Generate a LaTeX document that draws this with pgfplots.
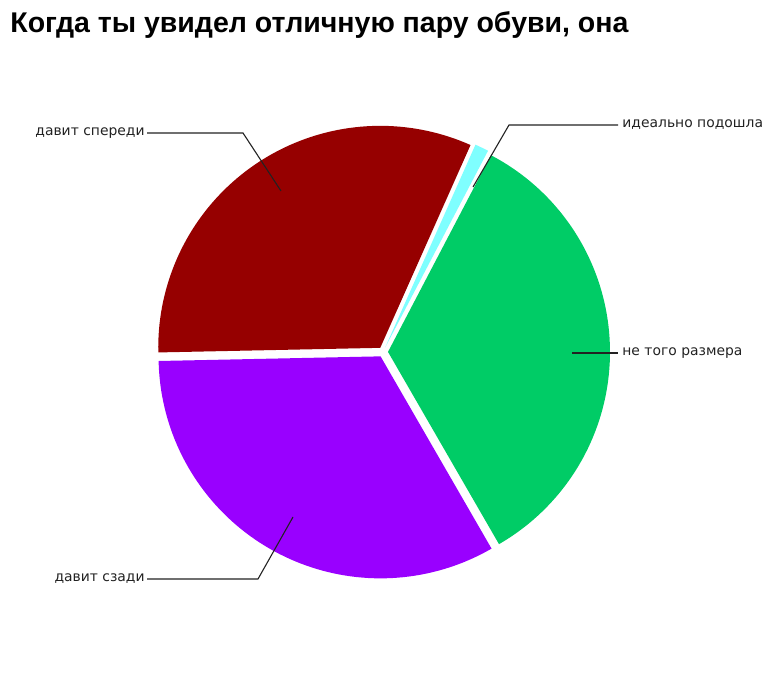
\documentclass[border=0pt]{standalone}
\usepackage{pgfplots}
\pgfplotsset{compat=1.18}
\usepackage{pgfplotstable}
\usepackage{fontspec}
\setmainfont{DejaVu Sans}
\newfontfamily\titlefont{Liberation Sans}

\definecolor{sliceGreen}{HTML}{00CC66}
\definecolor{sliceCyan}{HTML}{7FFFFF}
\definecolor{sliceRed}{HTML}{960000}
\definecolor{slicePurple}{HTML}{9900FF}
\definecolor{leader}{HTML}{222222}

% shares in percent, counter-clockwise from -60 degrees
\pgfplotstableread{
name value
nesize 34
ideal 1
front 32
back 33
}\piedata

\begin{document}
\begin{tikzpicture}
  \pgfplotstablegetelem{0}{value}\of\piedata \let\vA\pgfplotsretval
  \pgfplotstablegetelem{1}{value}\of\piedata \let\vB\pgfplotsretval
  \pgfplotstablegetelem{2}{value}\of\piedata \let\vC\pgfplotsretval
  \pgfplotstablegetelem{3}{value}\of\piedata \let\vD\pgfplotsretval
  \pgfmathsetmacro\aO{-60}
  \pgfmathsetmacro\aA{\aO+3.6*\vA}
  \pgfmathsetmacro\aB{\aA+3.6*\vB}
  \pgfmathsetmacro\aC{\aB+3.6*\vC}
  \pgfmathsetmacro\aD{\aC+3.6*\vD}
  % pie centre, radius and explode offset (pixel units)
  \def\cx{383}\def\cy{323}\def\rr{222}\def\ex{5}
  \begin{axis}[
      scale only axis,
      width  = 382.5pt,
      height = 337.5pt,
      xmin = 0, xmax = 765,
      ymin = 0, ymax = 675,
      hide axis,
      clip = false,
    ]
    \path (axis cs:0,0) rectangle (axis cs:765,675);

    % slices
    \addplot[fill=sliceGreen, draw=none, domain=\aO:\aA, samples=80]
      ({\cx+\ex*cos((\aO+\aA)/2)+\rr*cos(x)}, {\cy+\ex*sin((\aO+\aA)/2)+\rr*sin(x)})
      -- (axis cs:{\cx+\ex*cos((\aO+\aA)/2)},{\cy+\ex*sin((\aO+\aA)/2)}) -- cycle;
    \addplot[fill=sliceCyan, draw=none, domain=\aA:\aB, samples=10]
      ({\cx+\ex*cos((\aA+\aB)/2)+\rr*cos(x)}, {\cy+\ex*sin((\aA+\aB)/2)+\rr*sin(x)})
      -- (axis cs:{\cx+\ex*cos((\aA+\aB)/2)},{\cy+\ex*sin((\aA+\aB)/2)}) -- cycle;
    \addplot[fill=sliceRed, draw=none, domain=\aB:\aC, samples=80]
      ({\cx+\ex*cos((\aB+\aC)/2)+\rr*cos(x)}, {\cy+\ex*sin((\aB+\aC)/2)+\rr*sin(x)})
      -- (axis cs:{\cx+\ex*cos((\aB+\aC)/2)},{\cy+\ex*sin((\aB+\aC)/2)}) -- cycle;
    \addplot[fill=slicePurple, draw=none, domain=\aC:\aD, samples=80]
      ({\cx+\ex*cos((\aC+\aD)/2)+\rr*cos(x)}, {\cy+\ex*sin((\aC+\aD)/2)+\rr*sin(x)})
      -- (axis cs:{\cx+\ex*cos((\aC+\aD)/2)},{\cy+\ex*sin((\aC+\aD)/2)}) -- cycle;

    % leader lines
    \addplot[leader, line width=0.55pt] coordinates {(147,542) (243,542) (281,484)};
    \addplot[leader, line width=0.55pt] coordinates {(618,550) (509,550) (473,488)};
    \addplot[leader, line width=0.55pt] coordinates {(572,322) (618,322)};
    \addplot[leader, line width=0.55pt] coordinates {(147,96) (258,96) (293,158)};

    % labels
    \begin{scope}[every node/.style={inner sep=0pt, text=leader, font=\fontsize{6.95}{8}\selectfont}]
      \node[anchor=east]  at (axis cs:145,542) {давит спереди};
      \node[anchor=west]  at (axis cs:622,550) {идеально подошла};
      \node[anchor=west]  at (axis cs:622,322) {не того размера};
      \node[anchor=east]  at (axis cs:145,96)  {давит сзади};
    \end{scope}

    % title
    \node[anchor=base west, inner sep=0pt]
      at (axis cs:10,642) {\titlefont\bfseries\fontsize{14.25}{16}\selectfont Когда ты увидел отличную пару обуви, она};
  \end{axis}
\end{tikzpicture}
\end{document}
